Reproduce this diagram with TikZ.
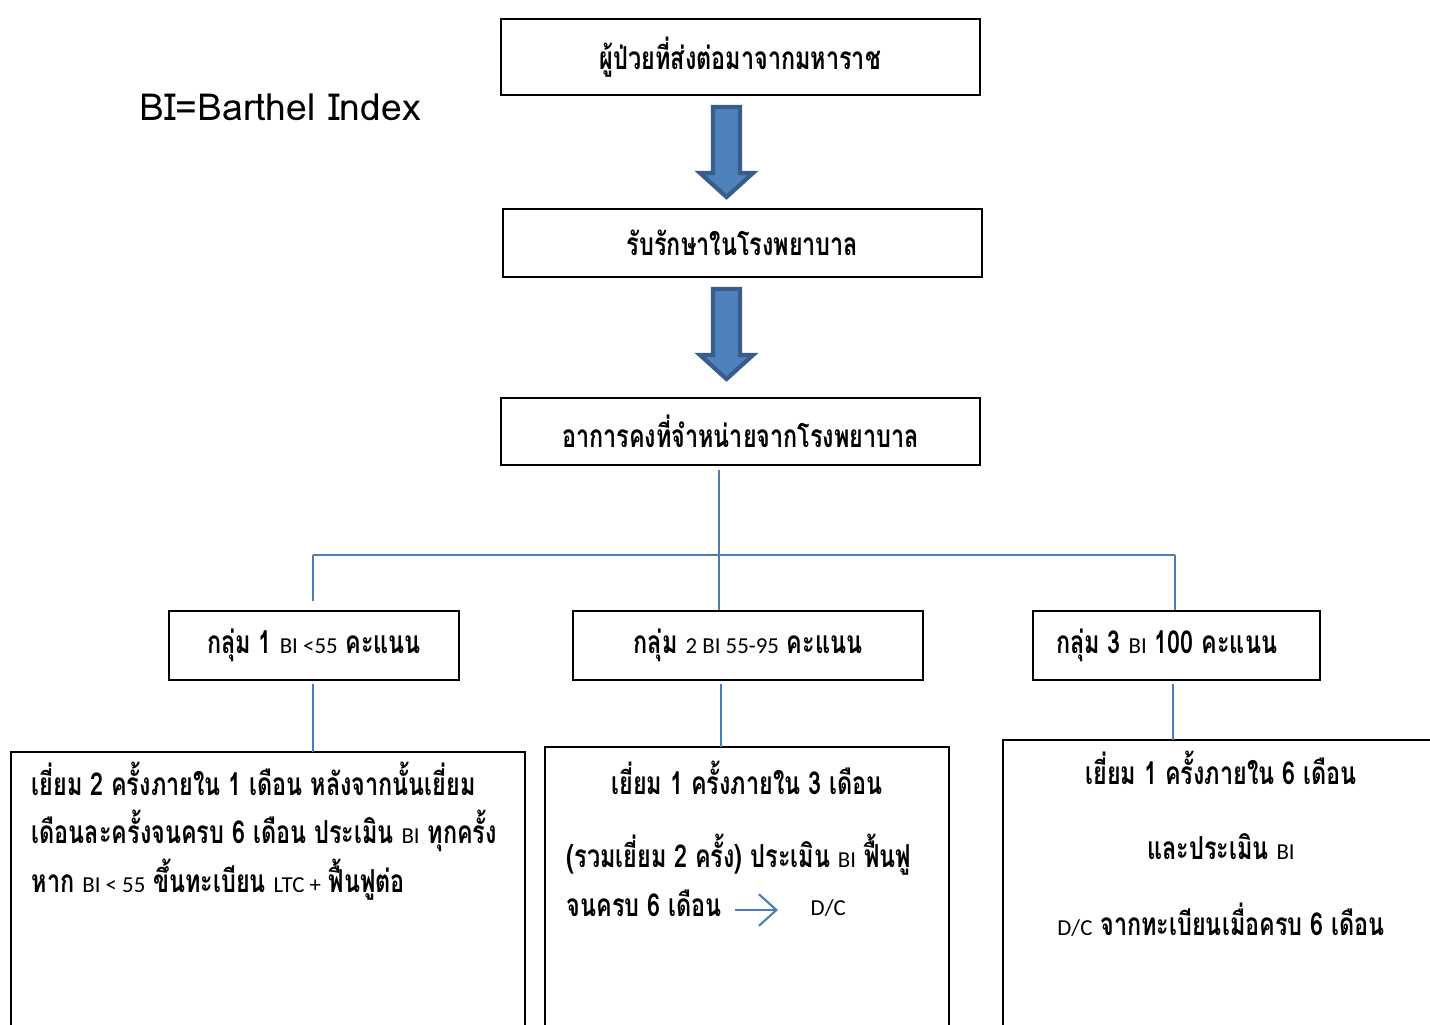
\documentclass[tikz,border=0pt]{standalone}
\usepackage{fontspec}
\usepackage{tikz}
\usetikzlibrary{arrows.meta}
\newfontfamily\thaifont[Script=Thai, FakeStretch=0.74]{Loma}
\newfontfamily\legendfont[Script=Thai]{Loma}
\newfontfamily\latinfont{Carlito}
\newcommand{\bi}[1]{{\latinfont\mdseries\fontsize{6.5}{8}\selectfont #1}}
\definecolor{arrowfill}{HTML}{4F81BD}
\definecolor{arrowline}{HTML}{385D8A}
\definecolor{linkblue}{HTML}{4A7EBB}

\tikzset{
	box/.style={draw=black, line width=0.8pt, minimum width=4.79cm, inner sep=0pt},
	grpbox/.style={draw=black, line width=0.8pt, minimum height=0.69cm, inner sep=0pt},
	link/.style={draw=linkblue, line width=0.6pt},
	blockarrow/.style={fill=arrowfill, draw=arrowline, line width=1.2pt, line join=miter},
	txt/.style={inner sep=0pt, font=\thaifont\bfseries\fontsize{9}{13.8}\selectfont}
}

\begin{document}
\begin{tikzpicture}[txt]
		\useasboundingbox (0,0) rectangle (14.30,-10.24);
		% top chain
		\node[box, minimum height=0.76cm] (refer) at (7.405,-0.57) {\raisebox{1.5pt}{ผู้ป่วยที่ส่งต่อมาจากมหาราช}};
		\node[box, minimum height=0.68cm] (admit) at (7.425,-2.43) {รับรักษาในโรงพยาบาล};
		\node[box, minimum height=0.67cm] (discharge) at (7.405,-4.315) {อาการคงที่จำหน่ายจากโรงพยาบาล};
		\node[font=\legendfont\fontsize{10.6}{13}\selectfont] (legend) at (2.80,-1.07) {BI=Barthel Index};
		\draw[blockarrow] (7.13,-1.07) -- (7.40,-1.07) -- (7.40,-1.73) -- (7.53,-1.73) -- (7.265,-1.97) -- (7.00,-1.73) -- (7.13,-1.73) -- cycle;
		\draw[blockarrow] (7.13,-2.89) -- (7.40,-2.89) -- (7.40,-3.55) -- (7.53,-3.55) -- (7.265,-3.79) -- (7.00,-3.55) -- (7.13,-3.55) -- cycle;
		% groups
		\node[grpbox, minimum width=2.90cm] (group1) at (3.14,-6.455) {กลุ่ม 1 \bi{BI <55} คะแนน};
		\node[grpbox, minimum width=3.50cm] (group2) at (7.48,-6.455) {กลุ่ม \bi{2 BI 55-95} คะแนน};
		\node[grpbox, minimum width=2.87cm] (group3) at (11.765,-6.455) {\hspace*{-0.2cm}กลุ่ม 3 \bi{BI} 100 คะแนน};
		\coordinate (hub) at (7.19,-5.55);
		\coordinate (busL) at (3.13,-5.55);
		\coordinate (busR) at (11.75,-5.55);
		\draw[link] (7.19,-4.70) -- (hub);
		\draw[link] (busL) -- (busR);
		\draw[link] (busL) -- (3.13,-6.01);
		\draw[link] (hub) -- (hub |- group2.north);
		\draw[link] (busR) -- (busR |- group3.north);
		% follow-up boxes
		\draw[line width=0.8pt] (0.11,-10.40) rectangle (5.25,-7.52) node[pos=0.5, inner sep=0pt] (visit1) {};
		\draw[line width=0.8pt] (5.45,-10.40) rectangle (9.49,-7.47) node[pos=0.5, inner sep=0pt] (visit2) {};
		\draw[line width=0.8pt] (10.03,-10.40) rectangle (14.60,-7.40) node[pos=0.5, inner sep=0pt] (visit3) {};
		\draw[link] (3.13,-6.84) -- (3.13,-7.52);
		\draw[link] (7.21,-6.84) -- (7.21,-7.47);
		\draw[link] (11.73,-6.84) -- (11.73,-7.40);
		\node[anchor=base west, align=left] (plan1) at (0.31,-8.92)
			{เยี่ยม 2 ครั้งภายใน 1 เดือน หลังจากนั้นเยี่ยม\\
			 เดือนละครั้งจนครบ 6 เดือน ประเมิน \bi{BI} ทุกครั้ง\\
			 หาก \bi{BI < 55} ขึ้นทะเบียน \bi{LTC +} ฟื้นฟูต่อ};
		\node[anchor=base] (plan2a) at (7.47,-7.94) {เยี่ยม 1 ครั้งภายใน 3 เดือน};
		\node[anchor=base west, align=left] (plan2b) at (5.66,-9.16)
			{(รวมเยี่ยม 2 ครั้ง) ประเมิน \bi{BI} ฟื้นฟู\\
			 จนครบ 6 เดือน};
		\node[anchor=base west] (dc) at (8.10,-9.15) {\bi{D/C}};
		\draw[link, -{Straight Barb[length=5pt, width=9pt]}] (7.35,-9.10) -- (7.78,-9.10);
		\node[anchor=base, align=center, font=\thaifont\bfseries\fontsize{9}{21.4}\selectfont] (plan3) at (12.21,-9.35)
			{เยี่ยม 1 ครั้งภายใน 6 เดือน\\
			 และประเมิน \bi{BI}\\
			 \bi{D/C} จากทะเบียนเมื่อครบ 6 เดือน};
	\end{tikzpicture}
\end{document}
